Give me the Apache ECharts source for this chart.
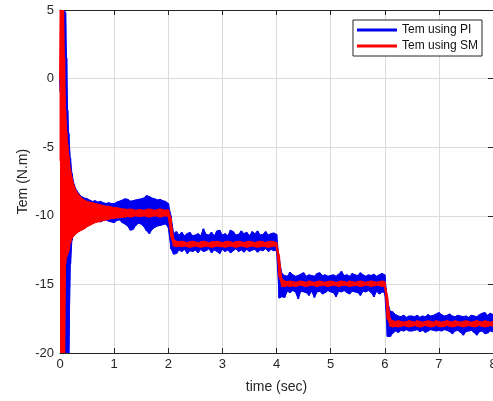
<!DOCTYPE html>
<html>
<head>
<meta charset="utf-8">
<script src="https://cdn.jsdelivr.net/npm/echarts@6/dist/echarts.min.js"></script>
<style>
html,body{margin:0;padding:0;background:#fff;}
#chart{width:493px;height:401px;}
</style>
</head>
<body>
<div id="chart"></div>
<script>
// sample times (s)
var time = [0, 0.01, 0.02, 0.04, 0.06, 0.08, 0.10, 0.12, 0.14, 0.16, 0.19, 0.22, 0.26, 0.30, 0.35, 0.40, 0.45,
  0.50, 0.55, 0.60, 0.65, 0.70, 0.75, 0.80, 0.85, 0.90, 0.95,
  1.00, 1.05, 1.10, 1.15, 1.20, 1.25, 1.30, 1.35, 1.40, 1.45,
  1.50, 1.55, 1.60, 1.65, 1.70, 1.75, 1.80, 1.85, 1.90, 1.95,
  2.00, 2.05, 2.10, 2.15, 2.20, 2.25, 2.30, 2.35, 2.40, 2.45,
  2.50, 2.55, 2.60, 2.65, 2.70, 2.75, 2.80, 2.85, 2.90, 2.95,
  3.00, 3.05, 3.10, 3.15, 3.20, 3.25, 3.30, 3.35, 3.40, 3.45,
  3.50, 3.55, 3.60, 3.65, 3.70, 3.75, 3.80, 3.85, 3.90, 3.95,
  4.00, 4.05, 4.10, 4.15, 4.20, 4.25, 4.30, 4.35, 4.40, 4.45,
  4.50, 4.55, 4.60, 4.65, 4.70, 4.75, 4.80, 4.85, 4.90, 4.95,
  5.00, 5.05, 5.10, 5.15, 5.20, 5.25, 5.30, 5.35, 5.40, 5.45,
  5.50, 5.55, 5.60, 5.65, 5.70, 5.75, 5.80, 5.85, 5.90, 5.95,
  6.00, 6.05, 6.10, 6.15, 6.20, 6.25, 6.30, 6.35, 6.40, 6.45,
  6.50, 6.55, 6.60, 6.65, 6.70, 6.75, 6.80, 6.85, 6.90, 6.95,
  7.00, 7.05, 7.10, 7.15, 7.20, 7.25, 7.30, 7.35, 7.40, 7.45,
  7.50, 7.55, 7.60, 7.65, 7.70, 7.75, 7.80, 7.85, 7.90, 7.95,
  8.00];

// Tem using PI : upper / lower extremes of the ripple at each sample time
var piHigh = [0, 0, 2, 5, 5, 5, 4.8, 1.5, -2.3, -4.0, -5.8, -6.9, -7.7, -8.1, -8.4, -8.6, -8.7,
  -8.75, -8.85, -8.95, -8.9, -9.0, -8.95, -9.05, -9.1, -9.05, -9.1,
  -9.12, -9.0, -8.93, -8.85, -8.76, -8.8, -8.93, -8.9, -8.84, -8.8,
  -8.76, -8.7, -8.52, -8.6, -8.7, -8.76, -8.84, -8.8, -8.9, -8.95,
  -9.1, -10.0, -11.3, -11.15, -11.4, -11.2, -11.45, -11.3, -11.2, -11.45,
  -11.4, -11.3, -11.45, -10.95, -11.35, -11.4, -11.2, -11.45, -11.1, -11.05,
  -11.4, -11.3, -11.45, -11.05, -11.15, -11.4, -11.35, -11.1, -11.3, -11.2,
  -11.45, -11.15, -11.3, -11.1, -11.4, -11.35, -11.15, -11.4, -11.3, -11.25,
  -11.35, -13.2, -14.2, -14.35, -14.4, -14.1, -14.3, -14.4, -14.35, -14.25,
  -14.15, -14.4, -14.3, -14.35, -14.4, -14.2, -14.15, -14.35, -14.3, -14.4,
  -14.35, -14.3, -14.4, -14.25, -14.05, -14.35, -14.3, -14.4, -14.2, -14.3,
  -14.35, -14.15, -14.3, -14.4, -14.3, -14.35, -14.25, -14.4, -14.3, -14.2,
  -14.3, -16.2, -16.95, -17.0, -17.2, -17.3, -17.35, -17.25, -17.4, -17.3,
  -17.3, -17.35, -17.25, -17.4, -17.3, -17.35, -17.2, -17.3, -17.25, -17.15,
  -17.05, -17.2, -17.3, -17.25, -17.15, -17.3, -17.35, -17.25, -17.3, -17.35,
  -17.3, -17.4, -17.25, -17.3, -17.35, -17.2, -17.1, -17.05, -17.25, -17.1,
  -17.2];
var piLow = [0, -1, -4, -12, -20, -20, -20, -20, -20, -20, -13.5, -11.8, -11.2, -10.8, -10.6, -10.45, -10.4,
  -10.35, -10.4, -10.45, -10.35, -10.4, -10.45, -10.35, -10.3, -10.4, -10.45,
  -10.5, -10.35, -10.3, -10.5, -10.6, -10.75, -11.05, -11.0, -10.7, -10.55,
  -10.6, -10.8, -11.1, -11.3, -11.0, -10.85, -10.75, -10.7, -10.65, -10.6,
  -10.85, -12.4, -12.8, -12.75, -12.5, -12.6, -12.45, -12.75, -12.55, -12.6,
  -12.5, -12.7, -12.45, -12.6, -12.55, -12.4, -12.7, -12.5, -12.6, -12.75,
  -12.45, -12.6, -12.5, -12.7, -12.55, -12.4, -12.6, -12.5, -12.65, -12.45,
  -12.6, -12.5, -12.45, -12.65, -12.5, -12.55, -12.4, -12.6, -12.45, -12.55,
  -12.5, -16.0, -15.9, -15.95, -15.5, -15.6, -15.45, -15.55, -16.05, -15.5,
  -15.55, -15.6, -15.8, -15.5, -15.95, -15.55, -15.5, -15.7, -15.6, -15.45,
  -15.55, -15.6, -15.9, -15.5, -15.55, -15.45, -15.6, -15.7, -15.5, -15.55,
  -15.6, -15.8, -15.5, -15.55, -15.45, -15.6, -15.9, -15.5, -15.7, -15.55,
  -15.6, -18.8, -18.8, -18.55, -18.4, -18.5, -18.35, -18.4, -18.3, -18.4,
  -18.4, -18.35, -18.3, -18.45, -18.35, -18.5, -18.4, -18.3, -18.35, -18.4,
  -18.35, -18.4, -18.3, -18.35, -18.45, -18.6, -18.4, -18.35, -18.5, -18.7,
  -18.45, -18.4, -18.35, -18.5, -18.7, -18.45, -18.4, -18.6, -18.55, -18.4,
  -18.45];

// Tem using SM : upper / lower extremes of the ripple at each sample time
var smHigh = [0, 5, 5, 5, 5, 1.5, -2.3, -3.8, -4.8, -5.6, -6.6, -7.2, -7.8, -8.2, -8.5, -8.7, -8.85,
  -8.95, -9.0, -9.05, -9.1, -9.15, -9.2, -9.25, -9.3, -9.3, -9.35,
  -9.4, -9.4, -9.45, -9.5, -9.5, -9.55, -9.5, -9.55, -9.6, -9.55,
  -9.55, -9.6, -9.55, -9.5, -9.55, -9.6, -9.55, -9.5, -9.55, -9.6,
  -9.55, -10.2, -11.7, -11.85, -11.9, -11.85, -11.9, -11.95, -11.9, -11.85,
  -11.9, -11.95, -11.9, -11.85, -11.9, -11.95, -11.9, -11.9, -11.85, -11.9,
  -11.95, -11.9, -11.85, -11.9, -11.95, -11.9, -11.85, -11.9, -11.95, -11.9,
  -11.85, -11.9, -11.95, -11.9, -11.85, -11.9, -11.95, -11.9, -11.85, -11.9,
  -11.95, -13.0, -14.6, -14.75, -14.8, -14.75, -14.8, -14.85, -14.8, -14.75,
  -14.8, -14.85, -14.75, -14.8, -14.85, -14.8, -14.75, -14.8, -14.85, -14.8,
  -14.75, -14.8, -14.85, -14.8, -14.75, -14.8, -14.85, -14.75, -14.8, -14.85,
  -14.8, -14.75, -14.8, -14.85, -14.8, -14.75, -14.8, -14.85, -14.8, -14.75,
  -14.8, -16.0, -17.5, -17.65, -17.7, -17.65, -17.7, -17.75, -17.7, -17.65,
  -17.7, -17.75, -17.65, -17.7, -17.75, -17.7, -17.65, -17.7, -17.75, -17.65,
  -17.7, -17.75, -17.7, -17.65, -17.7, -17.75, -17.65, -17.7, -17.75, -17.7,
  -17.65, -17.7, -17.75, -17.7, -17.65, -17.7, -17.75, -17.65, -17.7, -17.75,
  -17.7];
var smLow = [0, -6, -20, -20, -20, -20, -13.5, -13.0, -12.8, -12.6, -12.0, -11.65, -11.45, -11.3, -11.15, -11.05, -10.95,
  -10.8, -10.7, -10.6, -10.5, -10.45, -10.4, -10.35, -10.3, -10.25, -10.2,
  -10.2, -10.15, -10.15, -10.1, -10.1, -10.05, -10.1, -10.05, -10.0, -10.05,
  -10.05, -10.0, -10.05, -10.1, -10.05, -10.0, -10.05, -10.1, -10.05, -10.0,
  -10.05, -11.5, -12.2, -12.25, -12.2, -12.25, -12.2, -12.25, -12.3, -12.25,
  -12.2, -12.25, -12.3, -12.25, -12.2, -12.25, -12.3, -12.25, -12.2, -12.25,
  -12.25, -12.3, -12.25, -12.2, -12.25, -12.3, -12.25, -12.2, -12.25, -12.3,
  -12.25, -12.2, -12.25, -12.3, -12.25, -12.2, -12.25, -12.3, -12.25, -12.2,
  -12.25, -14.4, -15.15, -15.15, -15.1, -15.15, -15.1, -15.15, -15.1, -15.05,
  -15.1, -15.15, -15.1, -15.05, -15.1, -15.15, -15.1, -15.05, -15.1, -15.15,
  -15.1, -15.05, -15.1, -15.15, -15.1, -15.05, -15.1, -15.15, -15.1, -15.05,
  -15.1, -15.15, -15.1, -15.05, -15.1, -15.15, -15.1, -15.05, -15.1, -15.15,
  -15.1, -17.5, -18.05, -18.1, -18.05, -18.1, -18.05, -18.0, -18.05, -18.1,
  -18.05, -18.0, -18.05, -18.1, -18.05, -18.0, -18.05, -18.1, -18.05, -18.0,
  -18.05, -18.1, -18.05, -18.0, -18.05, -18.1, -18.05, -18.0, -18.05, -18.1,
  -18.05, -18.0, -18.05, -18.1, -18.05, -18.0, -18.05, -18.1, -18.05, -18.0,
  -18.05];

var seriesNames = ['Tem using PI', 'Tem using SM'];
var xTicks = {min: 0, max: 8, interval: 1};
var yTicks = {min: -20, max: 5, interval: 5};

// ripple trace: visit the upper and the lower extreme at every sample time
function ripple(hi, lo) {
  var pts = [];
  for (var i = 0; i < time.length; i++) {
    pts.push([time[i], hi[i]]);
    pts.push([time[i], lo[i]]);
  }
  return pts;
}
// filled ripple band between the extremes, placed through the axes
function bandSeries(name, hi, lo, color, z) {
  return {
    name: name, type: 'custom', xAxisIndex: 0, yAxisIndex: 0, z: z,
    clip: true, silent: true,
    data: [[time[0], hi[0]]],
    renderItem: function (params, api) {
      var pts = [];
      for (var i = 0; i < time.length; i++) pts.push(api.coord([time[i], hi[i]]));
      for (var j = time.length - 1; j >= 0; j--) pts.push(api.coord([time[j], lo[j]]));
      return {type: 'polygon', shape: {points: pts}, style: {fill: color, stroke: color, lineWidth: 1}};
    }
  };
}

var FONT = "'Liberation Sans', Arial, Helvetica, sans-serif";
var AX = '#262626';
var BLUE = '#0000ee', RED = '#ff0000';
var chart = echarts.init(document.getElementById('chart'), null, {renderer: 'canvas'});
chart.setOption({
  animation: false,
  backgroundColor: '#ffffff',
  textStyle: {fontFamily: FONT},
  grid: {left: 60, right: 0, top: 10, bottom: 48, outerBoundsMode: 'none', containLabel: false},
  legend: {
    data: seriesNames,
    orient: 'vertical',
    right: 11, top: 20,
    backgroundColor: '#ffffff',
    borderColor: '#262626', borderWidth: 1,
    padding: [4, 4, 4, 4],
    itemGap: 4,
    itemWidth: 40, itemHeight: 3,
    icon: 'rect',
    textStyle: {fontSize: 12, color: '#111', fontFamily: FONT}
  },
  xAxis: [{
    type: 'value', position: 'bottom',
    min: xTicks.min, max: xTicks.max, interval: xTicks.interval,
    name: 'time (sec)', nameLocation: 'middle', nameGap: 27, nameMoveOverlap: false,
    nameTextStyle: {fontSize: 14, color: AX, fontFamily: FONT},
    axisLine: {show: true, onZero: false, lineStyle: {color: AX, width: 1}},
    axisTick: {show: true, inside: true, length: 5, lineStyle: {color: AX}},
    axisLabel: {fontSize: 13, color: AX, margin: 5, fontFamily: FONT},
    splitLine: {show: true, lineStyle: {color: '#dcdcdc', width: 1}}
  }, {
    type: 'value', position: 'top',
    min: xTicks.min, max: xTicks.max, interval: xTicks.interval,
    axisLine: {show: true, onZero: false, lineStyle: {color: AX, width: 1}},
    axisTick: {show: true, inside: true, length: 5, lineStyle: {color: AX}},
    axisLabel: {show: false},
    splitLine: {show: false}
  }],
  yAxis: [{
    type: 'value', position: 'left',
    min: yTicks.min, max: yTicks.max, interval: yTicks.interval,
    name: 'Tem (N.m)', nameLocation: 'middle', nameGap: 30, nameMoveOverlap: false,
    nameTextStyle: {fontSize: 14, color: AX, fontFamily: FONT},
    axisLine: {show: true, onZero: false, lineStyle: {color: AX, width: 1}},
    axisTick: {show: true, inside: true, length: 5, lineStyle: {color: AX}},
    axisLabel: {fontSize: 13, color: AX, margin: 6, fontFamily: FONT},
    splitLine: {show: true, lineStyle: {color: '#dcdcdc', width: 1}}
  }, {
    type: 'value', position: 'right',
    min: yTicks.min, max: yTicks.max, interval: yTicks.interval,
    axisLine: {show: true, onZero: false, lineStyle: {color: AX, width: 1}},
    axisTick: {show: true, inside: true, length: 5, lineStyle: {color: AX}},
    axisLabel: {show: false},
    splitLine: {show: false}
  }],
  series: [
    bandSeries('PI band', piHigh, piLow, BLUE, 2),
    {
      name: seriesNames[0], type: 'line',
      xAxisIndex: 0, yAxisIndex: 0,
      data: ripple(piHigh, piLow),
      showSymbol: false, symbol: 'none',
      color: BLUE,
      lineStyle: {color: BLUE, width: 2},
      z: 3
    },
    bandSeries('SM band', smHigh, smLow, RED, 4),
    {
      name: seriesNames[1], type: 'line',
      xAxisIndex: 0, yAxisIndex: 0,
      data: ripple(smHigh, smLow),
      showSymbol: false, symbol: 'none',
      color: RED,
      lineStyle: {color: RED, width: 2},
      z: 5
    }
  ]
});
</script>
</body>
</html>
